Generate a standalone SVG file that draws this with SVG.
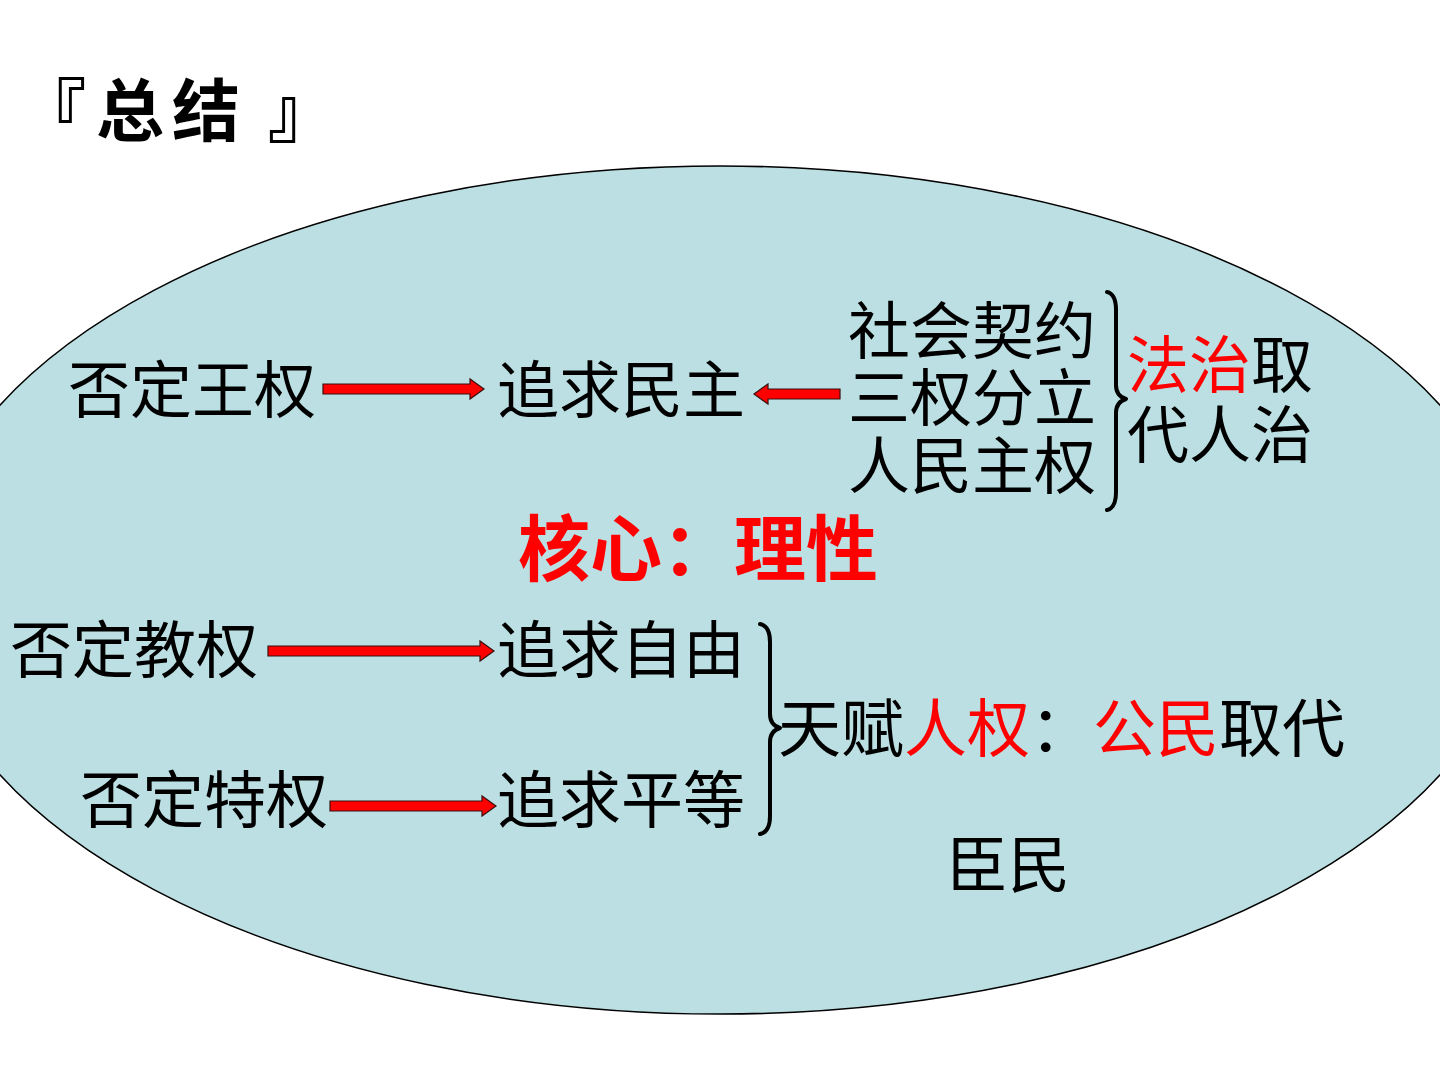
<svg xmlns="http://www.w3.org/2000/svg" width="1440" height="1080" viewBox="0 0 1440 1080">
<style>
.t{font-family:"Noto Sans CJK SC","Noto Sans CJK TC",sans-serif;font-size:62px;fill:#000}
.r{fill:#ff0000}
.ttl{font-size:68px;font-weight:bold}
.arrow{fill:#ff0000;stroke:#3a1010;stroke-width:1.2;stroke-linejoin:miter}
.brace{fill:none;stroke:#000;stroke-width:4;stroke-linecap:round;stroke-linejoin:round}
</style>
<rect width="1440" height="1080" fill="#ffffff"/>
<g id="title"><text class="t ttl" y="136"><tspan x="18">『</tspan><tspan x="96">总</tspan><tspan x="172">结</tspan><tspan x="268">』</tspan></text></g>
<g id="oval"><ellipse cx="720" cy="590" rx="800" ry="424" fill="#bbdfe2" stroke="#000" stroke-width="1.5"/></g>
<g id="n-fouding-wangquan"><text class="t" x="68" y="413">否定王权</text></g>
<g id="n-minzhu"><text class="t" x="497" y="413">追求民主</text></g>
<g id="n-three"><text class="t" x="848" y="354">社会契约</text><text class="t" x="848" y="421">三权分立</text><text class="t" x="848" y="489">人民主权</text></g>
<g id="n-fazhi"><text class="t" x="1127" y="388"><tspan class="r">法治</tspan>取</text><text class="t" x="1127" y="458">代人治</text></g>
<g id="n-core"><text class="t r" x="518" y="575" style="font-size:72px;font-weight:bold">核心：理性</text></g>
<g id="n-jiaoquan"><text class="t" x="10" y="673">否定教权</text></g>
<g id="n-ziyou"><text class="t" x="497" y="673">追求自由</text></g>
<g id="n-tequan"><text class="t" x="80" y="823">否定特权</text></g>
<g id="n-pingdeng"><text class="t" x="497" y="823">追求平等</text></g>
<g id="n-renquan"><text class="t" x="778" y="751" style="font-size:63px">天赋<tspan class="r">人权</tspan>：<tspan class="r">公民</tspan>取代</text></g>
<g id="n-chenmin"><text class="t" x="946" y="888">臣民</text></g>
<g id="connectors">
<path class="arrow" d="M323,384 L470,384 L470,379 L484,389 L470,399 L470,394 L323,394 Z"/>
<path class="arrow" d="M840,389 L768,389 L768,384 L754,394 L768,404 L768,399 L840,399 Z"/>
<path class="arrow" d="M268,646 L480,646 L480,641 L494,651 L480,661 L480,656 L268,656 Z"/>
<path class="arrow" d="M330,801 L482,801 L482,796 L496,806 L482,816 L482,811 L330,811 Z"/>
<path class="brace" d="M1107,292 Q1116,294 1116,310 L1116,385 Q1116,396 1126,399 Q1116,402 1116,413 L1116,492 Q1116,508 1107,510"/>
<path class="brace" d="M760,624 Q770,626 770,642 L770,714 Q770,725 780,728 Q770,731 770,742 L770,816 Q770,832 760,834"/>
</g>
</svg>
